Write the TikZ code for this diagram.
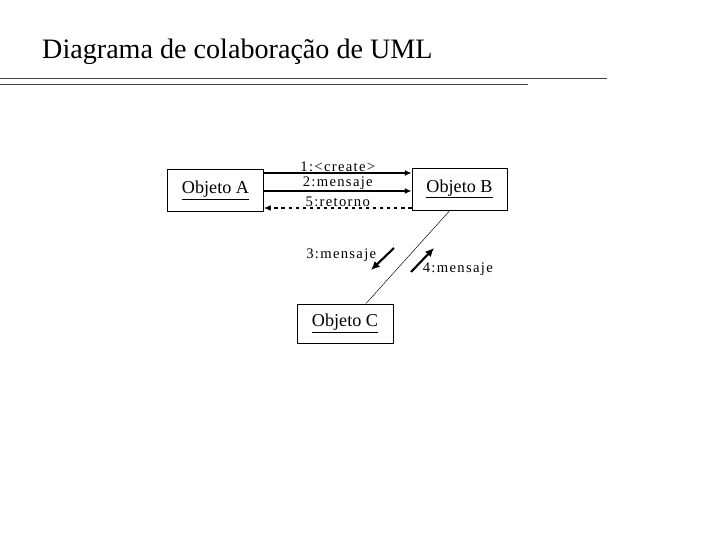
\documentclass[tikz,border=0pt]{standalone}
\usepackage{fontspec}
\setmainfont{Liberation Serif}
\newfontfamily\msgfont[LetterSpace=9]{Liberation Serif}
\usetikzlibrary{arrows.meta, positioning, calc}
\definecolor{rulegray}{RGB}{64,64,88}
\newcommand{\objname}[1]{\underline{#1}}

\begin{document}
\begin{tikzpicture}[x=0.03cm, y=-0.03cm,
            obj/.style={draw, thick, minimum width=2.88cm, minimum height=1.26cm, font=\fontsize{15.5}{18}\selectfont},
            msglabel/.style={font=\msgfont\fontsize{12.5}{14}\selectfont, inner sep=0.5pt},
            msg/.style={-{Latex[length=2mm,width=1.8mm]}, very thick},
            ret/.style={msg, dashed},
            link/.style={-{Latex[length=2.6mm,width=2.4mm]}, line width=1.8pt}
        ]
            \useasboundingbox (0,0) rectangle (720,540);

            \node[anchor=west, font=\fontsize{24}{28}\selectfont, inner sep=0pt] (title) at (42,52) {Diagrama de colaboração de UML};
            \draw[rulegray, thick] (0,78) -- (607,78);
            \draw[rulegray, thick] (0,84) -- (528,84);

            \node[obj] (objA) at (215.5,190.5) {\objname{Objeto A}};
            \node[obj, minimum width=2.85cm] (objB) at (459.5,189) {\objname{Objeto B}};
            \node[obj, minimum height=1.17cm] (objC) at (345,323.5) {\objname{Objeto C}};

            \draw[msg] (objA.east |- 0,173) -- (objB.west |- 0,173) node[msglabel, midway, above] {1:<create>};
            \draw[msg] (objA.east |- 0,191) -- (objB.west |- 0,191) node[msglabel, midway, above] {2:mensaje};
            \draw[ret] (objB.west |- 0,208) -- (objA.east |- 0,208) node[msglabel, midway, above] {5:retorno};

            \draw ([xshift=-0.29cm]objB.south) -- ([xshift=0.63cm]objC.north);

            \coordinate (m3a) at (394,248);
            \coordinate (m3b) at (371,270);
            \coordinate (m4a) at (411,272);
            \coordinate (m4b) at (434,248);
            \draw[link] (m3a) -- (m3b);
            \draw[link] (m4a) -- (m4b);
            \node[msglabel, anchor=east] (lbl3) at (377,255) {3:mensaje};
            \node[msglabel, anchor=west] (lbl4) at (422,269) {4:mensaje};
        \end{tikzpicture}
\end{document}
